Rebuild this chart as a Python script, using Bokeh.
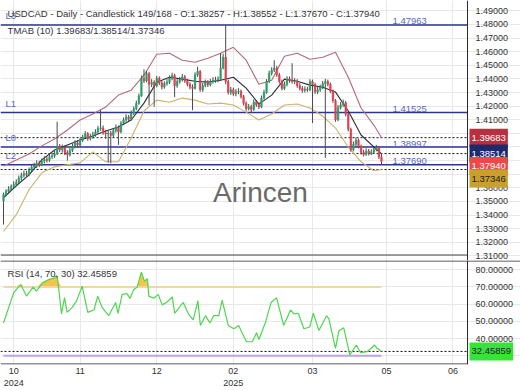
import numpy as np
from bokeh.plotting import figure
from bokeh.layouts import column
from bokeh.models import Span, Label, FixedTicker, Range1d
from bokeh.core.properties import value
from bokeh.embed import file_html
from bokeh.resources import INLINE

# ---------------- data ----------------
opens = [1.3505,1.3550,1.3575,1.3590,1.3610,1.3625,1.3640,1.3672,1.3690,1.3705,
         1.3698,1.3730,1.3752,1.3760,1.3781,1.3770,1.3795,1.3810,1.3802,1.3828,
         1.3835,1.3850,1.3905,1.3880,1.3895,1.3860,1.3842,1.3875,1.3905,1.3930,
         1.3915,1.3950,1.3972,1.3998,1.3962,1.3975,1.3990,1.4010,1.4035,1.4040,
         1.4005,1.3995,1.4002,1.3985,1.4020,1.4045,1.4010,1.4075,1.4098,1.4120,
         1.4105,1.4150,1.4180,1.4220,1.4275,1.4405,1.4385,1.4440,1.4360,1.4375,
         1.4350,1.4405,1.4370,1.4340,1.4365,1.4375,1.4405,1.4425,1.4350,1.4380,
         1.4395,1.4415,1.4385,1.4360,1.4340,1.4330,1.4430,1.4455,1.4320,1.4350,
         1.4375,1.4355,1.4380,1.4390,1.4392,1.4395,1.4480,1.4560,1.4380,1.4300,
         1.4320,1.4290,1.4305,1.4310,1.4270,1.4220,1.4180,1.4195,1.4175,1.4230,
         1.4210,1.4195,1.4260,1.4300,1.4380,1.4440,1.4465,1.4480,1.4430,1.4380,
         1.4330,1.4360,1.4400,1.4390,1.4380,1.4382,1.4350,1.4330,1.4315,1.4325,
         1.4320,1.4380,1.4360,1.4305,1.4320,1.4340,1.4365,1.4380,1.4360,1.4310,
         1.4240,1.4100,1.4190,1.4210,1.4225,1.4140,1.4030,1.3880,1.3920,1.3950,
         1.3905,1.3860,1.3845,1.3870,1.3850,1.3862,1.3880,1.3895,1.38257]
closes = [1.3550,1.3575,1.3590,1.3610,1.3625,1.3640,1.3672,1.3690,1.3705,1.3698,
          1.3730,1.3752,1.3760,1.3781,1.3770,1.3795,1.3810,1.3802,1.3828,1.3835,
          1.3850,1.3905,1.3880,1.3895,1.3860,1.3842,1.3875,1.3905,1.3930,1.3915,
          1.3950,1.3972,1.3998,1.3962,1.3975,1.3990,1.4010,1.4035,1.4040,1.4005,
          1.3995,1.4002,1.3985,1.4020,1.4045,1.4010,1.4075,1.4098,1.4120,1.4105,
          1.4150,1.4180,1.4220,1.4275,1.4405,1.4385,1.4440,1.4360,1.4375,1.4350,
          1.4405,1.4370,1.4340,1.4365,1.4375,1.4405,1.4425,1.4350,1.4380,1.4395,
          1.4415,1.4385,1.4360,1.4340,1.4330,1.4430,1.4455,1.4320,1.4350,1.4375,
          1.4355,1.4380,1.4390,1.4392,1.4395,1.4480,1.4560,1.4380,1.4300,1.4320,
          1.4290,1.4305,1.4310,1.4270,1.4220,1.4180,1.4195,1.4175,1.4230,1.4210,
          1.4195,1.4260,1.4300,1.4380,1.4440,1.4465,1.4480,1.4430,1.4380,1.4330,
          1.4360,1.4400,1.4390,1.4380,1.4382,1.4350,1.4330,1.4315,1.4325,1.4320,
          1.4380,1.4360,1.4305,1.4320,1.4340,1.4365,1.4380,1.4360,1.4310,1.4240,
          1.4100,1.4190,1.4210,1.4225,1.4140,1.4030,1.3880,1.3920,1.3950,1.3905,
          1.3860,1.3845,1.3870,1.3850,1.3862,1.3880,1.3895,1.3826,1.37940]
highs = [1.3565,1.3590,1.3612,1.3625,1.3648,1.3662,1.3690,1.3712,1.3728,1.3725,
         1.3748,1.3770,1.3785,1.3802,1.3798,1.3815,1.3832,1.3830,1.3846,1.3858,
         1.3872,1.4085,1.3922,1.3918,1.3910,1.3876,1.3892,1.3925,1.3950,1.3948,
         1.3968,1.3990,1.4018,1.4010,1.3996,1.4012,1.4030,1.4055,1.4170,1.4058,
         1.4025,1.4020,1.4018,1.4040,1.4065,1.4058,1.4090,1.4115,1.4140,1.4135,
         1.4168,1.4198,1.4240,1.4292,1.4425,1.4470,1.4458,1.4452,1.4398,1.4390,
         1.4422,1.4418,1.4385,1.4382,1.4398,1.4425,1.4445,1.4438,1.4398,1.4415,
         1.4435,1.4428,1.4400,1.4375,1.4360,1.4448,1.4490,1.4465,1.4370,1.4395,
         1.4390,1.4400,1.4412,1.4415,1.4418,1.4590,1.4585,1.4796,1.4395,1.4342,
         1.4335,1.4325,1.4332,1.4322,1.4282,1.4235,1.4215,1.4210,1.4248,1.4245,
         1.4228,1.4278,1.4320,1.4398,1.4460,1.4485,1.4537,1.4495,1.4445,1.4395,
         1.4380,1.4420,1.4418,1.4515,1.4405,1.4398,1.4368,1.4348,1.4345,1.4342,
         1.4398,1.4395,1.4372,1.4340,1.4358,1.4385,1.4400,1.4395,1.4372,1.4322,
         1.4252,1.4208,1.4230,1.4248,1.4238,1.4152,1.4042,1.3940,1.3970,1.3962,
         1.3918,1.3880,1.3890,1.3885,1.3882,1.3898,1.3915,1.3905,1.38552]
lows = [1.3330,1.3538,1.3560,1.3578,1.3596,1.3612,1.3630,1.3655,1.3676,1.3680,
        1.3685,1.3716,1.3738,1.3745,1.3752,1.3758,1.3780,1.3785,1.3790,1.3812,
        1.3820,1.3840,1.3862,1.3858,1.3840,1.3800,1.3830,1.3862,1.3890,1.3896,
        1.3902,1.3935,1.3960,1.3945,1.3948,1.3960,1.3975,1.3998,1.4020,1.3990,
        1.3960,1.3785,1.3780,1.3970,1.4005,1.3915,1.4000,1.4060,1.4085,1.4088,
        1.4095,1.4135,1.4170,1.4210,1.4268,1.4370,1.4375,1.4205,1.4340,1.4195,
        1.4338,1.4355,1.4322,1.4328,1.4350,1.4362,1.4390,1.4266,1.4335,1.4365,
        1.4380,1.4370,1.4345,1.4322,1.4170,1.4322,1.4415,1.4305,1.4305,1.4338,
        1.4340,1.4345,1.4365,1.4372,1.4375,1.4388,1.4470,1.4360,1.4285,1.4282,
        1.4275,1.4272,1.4288,1.4255,1.4205,1.4165,1.4168,1.4150,1.4165,1.4195,
        1.4178,1.4185,1.4248,1.4290,1.4368,1.4425,1.4450,1.4415,1.4365,1.4315,
        1.4318,1.4345,1.4372,1.4365,1.4362,1.4335,1.4315,1.4298,1.4300,1.4305,
        1.4310,1.4076,1.4290,1.4288,1.4305,1.4325,1.3820,1.4345,1.4295,1.4225,
        1.4085,1.4090,1.4175,1.4195,1.4125,1.4015,1.3865,1.3868,1.3905,1.3890,
        1.3845,1.3830,1.3835,1.3838,1.3840,1.3850,1.3868,1.3812,1.37670]

band_bars = [0,5,10,15,20,25,30,35,40,45,50,55,60,65,70,75,80,85,90,95,
             100,105,110,115,120,125,130,135,140,145,148]
band_upper = [1.3761,1.3805,1.3849,1.3908,1.3959,1.4025,1.4098,1.4142,1.4193,1.4281,
              1.4317,1.4427,1.4581,1.4588,1.4537,1.4522,1.4551,1.4588,1.4632,1.4537,
              1.4361,1.4390,1.4566,1.4588,1.4544,1.4559,1.4595,1.4412,1.4186,1.4061,1.39683]
band_mid = [1.3527,1.3615,1.3695,1.3805,1.3878,1.3915,1.3951,1.3981,1.4017,1.4047,
            1.4098,1.4222,1.4376,1.4412,1.4398,1.4383,1.4376,1.4390,1.4412,1.4332,
            1.4215,1.4281,1.4398,1.4383,1.4354,1.4339,1.4303,1.4164,1.3988,1.3900,1.38514]
band_lower = [1.3279,1.3403,1.3586,1.3710,1.3754,1.3769,1.3783,1.3864,1.3791,1.3791,
              1.3966,1.4164,1.4244,1.4229,1.4259,1.4244,1.4215,1.4222,1.4208,1.4156,
              1.4098,1.4142,1.4208,1.4215,1.4186,1.4127,1.4039,1.3900,1.3791,1.3725,1.37346]

rsi_bars = [0,4.0,6.7,9.0,11.6,12.9,15.2,17.7,19.7,20.8,21.3,22.7,23.9,24.9,26.9,28.6,
            30.8,33.0,35.4,36.9,38.6,41.2,43.9,44.8,46.5,48.4,49.5,51.0,52.3,54.0,
            55.2,56.3,56.9,58.8,60.6,62.1,63.8,66.1,67.0,70.4,72.6,74.3,76.1,77.1,
            79.1,80.8,82.3,84.3,85.6,88.0,90.2,92.1,93.1,95.1,97.4,99.1,100.0,102.6,
            104.8,106.9,109.7,112.4,113.7,115.4,117.6,119.9,121.3,123.5,126.5,127.4,
            130.0,131.3,133.2,135.6,138.2,139.8,142.4,144.0,145.3,146.3,148.0]
rsi_vals = [49.0,66.7,71.4,64.7,69.9,67.6,72.4,74.3,75.2,76.8,73.3,54.3,63.8,55.2,58.1,61.9,
            70.5,55.2,56.6,64.7,58.1,53.3,61.0,54.7,65.7,66.1,63.4,68.6,69.9,78.7,
            73.3,74.9,64.7,63.4,65.7,59.6,61.0,64.2,54.7,61.0,53.9,50.9,61.9,47.6,
            53.3,49.0,53.3,53.3,62.3,47.6,45.7,47.6,44.4,38.1,38.1,43.4,39.4,49.5,
            61.0,63.8,47.6,56.6,54.3,54.7,45.7,46.7,54.7,44.7,53.3,51.4,
            34.3,44.4,46.3,30.5,36.2,31.8,32.4,34.3,36.2,34.3,32.45859]

levels = [1.47963, 1.41525, 1.38997, 1.37690]
level_names = ["L3", "L1", "L0", "L2"]

price_ticks = [1.31,1.32,1.33,1.34,1.35,1.36,1.37,1.38,1.39,1.40,
               1.41,1.42,1.43,1.44,1.45,1.46,1.47,1.48,1.49]
rsi_ticks = [30, 40, 50, 60, 70, 80]

month_ticks = [4, 30, 60, 90, 121, 150, 176]
month_labels = ["10\n2024", "11", "12", "02\n2025", "03", "05", "06"]

symbol = "USDCAD"
bar_no, bar_total = 149, 168
rsi_params = (14, 70, 30)
tmab_period = 10

# ---------------- layout constants ----------------
FONT = "Liberation Sans"
W, FH1, FH2 = 520, 260, 104
X0, X1 = -1.175, 202.43
AXIS_X = 181.68
PY0, PY1 = 1.30663, 1.49756
RY0, RY1 = 24.86, 85.43
ppb = W / (X1 - X0)
ppu1 = FH1 / (PY1 - PY0)
ppu2 = FH2 / (RY1 - RY0)

UP, DOWN, WICK = "#2a9f6c", "#e0404f", "#4a4a4a"
NAVY, LBLUE = "#2c3590", "#5a68bd"
GRID = "#e8e8e8"
TXT = "#333333"
AX = "#2a2a2a"

xr = Range1d(X0, X1)
idx = np.arange(len(closes))
o = np.array(opens); c = np.array(closes)

# ---------------- price panel ----------------
p1 = figure(frame_width=W, frame_height=FH1, x_range=xr, y_range=Range1d(PY0, PY1),
            output_backend="svg", toolbar_location=None, x_axis_location=None,
            y_axis_location=None, min_border=0, outline_line_color=None)
p1.ygrid.ticker = FixedTicker(ticks=price_ticks)
p1.ygrid.bounds = (X0, AXIS_X)
p1.xgrid.ticker = FixedTicker(ticks=month_ticks)
p1.grid.grid_line_color = GRID

# watermark
p1.add_layout(Label(x=100.6, y=1.3564, text="Arincen", text_font=FONT,
                    text_font_size="28px", text_color="#6a6a6a",
                    text_align="center", text_baseline="middle"))

# levels
p1.segment(x0=X0, x1=AXIS_X, y0=levels, y1=levels, line_color=NAVY, line_width=1.5)
for lv, nm in zip(levels, level_names):
    p1.add_layout(Label(x=0.8, y=lv + 4 / ppu1, text=nm, text_font=FONT,
                        text_font_size="9.5px", text_color=LBLUE, text_baseline="bottom"))
    p1.add_layout(Label(x=152.3, y=lv + 0.5 / ppu1, text=f"{lv:.5f}", text_font=FONT,
                        text_font_size="9.5px", text_color=LBLUE, text_baseline="bottom"))

# dashed current band levels
cur = [band_upper[-1], band_mid[-1], band_lower[-1]]
p1.segment(x0=X0, x1=AXIS_X, y0=cur, y1=cur, line_color="#111111",
           line_width=1, line_dash="2 2")

# bands
p1.line(band_bars, band_upper, line_color="#b46a78", line_width=1.1)
p1.line(band_bars, band_lower, line_color="#cbb36a", line_width=1.1)
p1.line(band_bars, band_mid, line_color="#2d2d3a", line_width=1.1)

# candles
colors = [UP if cc >= oo else DOWN for oo, cc in zip(opens, closes)]
p1.segment(x0=idx, y0=lows, x1=idx, y1=highs, line_color=WICK, line_width=1)
p1.vbar(x=idx, width=0.6, top=np.maximum(o, c), bottom=np.minimum(o, c),
        fill_color=colors, line_color=colors, line_width=0.6)

# axis line, bottom separator, tick labels
p1.add_layout(Span(location=AXIS_X, dimension="height", line_color=AX, line_width=1))
p1.segment(x0=X0, x1=AXIS_X, y0=PY0 + 5.5 / ppu1, y1=PY0 + 5.5 / ppu1,
           line_color="#444444", line_width=1)
p1.text(x=[AXIS_X + 8 / ppb] * len(price_ticks), y=price_ticks,
        text=[f"{t:.5f}" for t in price_ticks], text_font=value(FONT),
        text_font_size="9px", text_color=TXT, text_baseline="middle", text_align="left")

# header texts
hdr = (f"{symbol} - Daily - Candlestick    {bar_no}/{bar_total} - O:{opens[-1]:.5f} - "
       f"H:{highs[-1]:.5f} - L:{lows[-1]:.5f} - C:{closes[-1]:.5f}")
p1.add_layout(Label(x=1.6, y=PY1 - 13 / ppu1, text=hdr, text_font=FONT,
                    text_font_size="9.5px", text_color=TXT, text_baseline="middle"))
tm = f"TMAB ({tmab_period})   {band_upper[-1]:.5f}/{band_mid[-1]:.5f}/{band_lower[-1]:.5f}"
p1.add_layout(Label(x=1.6, y=PY1 - 30 / ppu1, text=tm, text_font=FONT,
                    text_font_size="9.5px", text_color=TXT, text_baseline="middle"))

# right-side value tags (stacked)
TAG_H = 12.5
TAG_X = AXIS_X + 2 / ppb
tags = [(band_upper[-1], "#b8303f", "white"), (band_mid[-1], "#1e2a6c", "white"),
        (closes[-1], "#f04848", "white"), (band_lower[-1], "#c9a12a", "#222222")]
prev = None
for val, bg, fg in sorted(tags, key=lambda t: -t[0]):
    ypos = val
    if prev is not None and (prev - ypos) * ppu1 < TAG_H:
        ypos = prev - TAG_H / ppu1
    prev = ypos
    p1.add_layout(Label(x=TAG_X, y=ypos, text=f"{val:.5f}", text_font=FONT,
                        text_font_size="9.5px", text_color=fg, text_baseline="middle",
                        background_fill_color=bg, padding=(2, 6)))

# ---------------- RSI panel ----------------
p2 = figure(frame_width=W, frame_height=FH2, x_range=xr, y_range=Range1d(RY0, RY1),
            output_backend="svg", toolbar_location=None, y_axis_location=None,
            min_border=0, outline_line_color=None)
p2.ygrid.ticker = FixedTicker(ticks=rsi_ticks)
p2.ygrid.bounds = (X0, AXIS_X)
p2.xgrid.ticker = FixedTicker(ticks=month_ticks)
p2.grid.grid_line_color = GRID
xa = p2.xaxis[0]
xa.ticker = FixedTicker(ticks=month_ticks)
xa.major_label_overrides = {t: l for t, l in zip(month_ticks, month_labels)}
xa.major_tick_line_color = None
xa.major_tick_out = 0
xa.major_tick_in = 0
xa.minor_tick_line_color = None
xa.axis_line_color = None
xa.major_label_text_font = FONT
xa.major_label_text_font_size = "9px"
xa.major_label_text_color = TXT
xa.major_label_standoff = 1

ob, os_ = rsi_params[1], rsi_params[2]
rv = np.array(rsi_vals)
p2.varea(x=rsi_bars, y1=ob, y2=np.maximum(rv, ob), fill_color="#f6bf3c", fill_alpha=0.9)
p2.line([rsi_bars[0], rsi_bars[-1]], [ob, ob], line_color="#f0d9a0", line_width=2)
p2.line([rsi_bars[0], rsi_bars[-1]], [os_, os_], line_color="#bda2ea", line_width=2)
p2.segment(x0=X0, x1=AXIS_X, y0=rsi_vals[-1], y1=rsi_vals[-1], line_color="#111111",
           line_width=1, line_dash="2 2")
p2.line(rsi_bars, rsi_vals, line_color="#4fd64f", line_width=1.2)

# frame lines
p2.add_layout(Span(location=RY1 - 0.5 / ppu2, dimension="width", line_color=AX, line_width=1))
p2.segment(x0=X0, x1=AXIS_X, y0=RY0 + 0.5 / ppu2, y1=RY0 + 0.5 / ppu2,
           line_color=AX, line_width=1)
p2.add_layout(Span(location=AXIS_X, dimension="height", line_color=AX, line_width=1))
p2.text(x=[AXIS_X + 8 / ppb] * len(rsi_ticks), y=rsi_ticks,
        text=[f"{t:.5f}" for t in rsi_ticks], text_font=value(FONT),
        text_font_size="9px", text_color=TXT, text_baseline="middle", text_align="left")

p2.add_layout(Label(x=1.6, y=RY1 - 12.5 / ppu2,
                    text=f"RSI {rsi_params}   {rsi_vals[-1]:.5f}",
                    text_font=FONT, text_font_size="9.5px", text_color=TXT,
                    text_baseline="middle"))
p2.add_layout(Label(x=TAG_X, y=rsi_vals[-1], text=f"{rsi_vals[-1]:.5f}", text_font=FONT,
                    text_font_size="9.5px", text_color="#1a1a40", text_baseline="middle",
                    background_fill_color="#33e633", padding=(2, 6)))

layout = column(p1, p2, spacing=0)
open("out.html", "w").write(file_html(layout, INLINE))
